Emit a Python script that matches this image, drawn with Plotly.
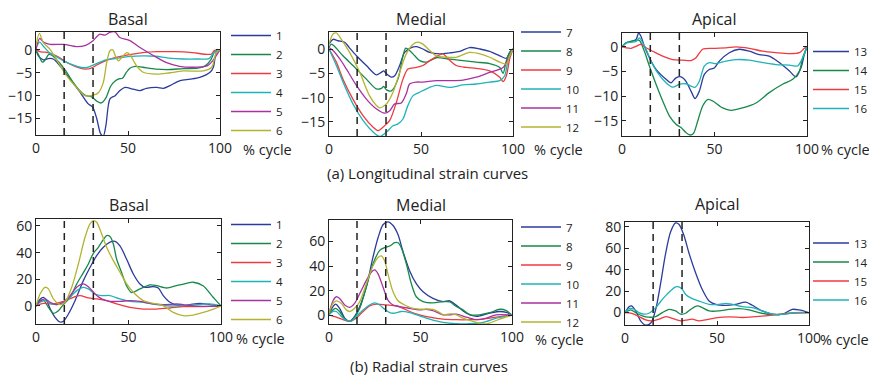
import plotly.graph_objects as go

# ---------------- colours / labels ----------------
COLORS = ["#2b3c9c", "#16894a", "#ef3a40", "#1eb3b6", "#a8329f", "#b3b331"]
X_TICKS = [0, 50, 100]
DASHED_X = [15.3, 31.0]

# ---------------- (a) longitudinal strain, basal (segments 1-6) ----------------
LB1 = [(0,0),(1.3,-1.3),(4,-2.2),(6.7,-1.9),(9.4,-2),(13,-3.5),(18.5,-6.4),(24,-9.3),(28.4,-11.8),(30.8,-12.5),
       (33,-15),(35.1,-18.3),(36.6,-18.8),(38,-16.5),(40.2,-10.7),(43,-10),(45.6,-8.9),(48.4,-8.2),(52.9,-8.6),
       (56.5,-8.9),(60,-8.4),(65.6,-8.2),(69.2,-8.4),(72.8,-7.8),(78.3,-6.7),(83.7,-6.4),(89,-6),(94.6,-4.9),
       (96.4,-3.8),(98,-0.6),(100,0)]
LB2 = [(0,0),(1.5,-1.2),(3.5,-2.7),(5,-2.2),(7,-1),(9,-1.3),(12,-2.5),(16,-4.5),(20,-7),(24,-9),(27,-10),(30,-10.2),
       (33,-11.2),(35.5,-11.6),(38,-10.5),(40.5,-8),(43,-6.8),(45.5,-6.3),(47,-6.2),(49,-5),(51,-4),(54,-3.6),
       (58,-3.8),(65,-4.2),(72,-4.3),(80,-4.1),(88,-4),(92,-3.5),(95,-2.2),(97,-0.5),(100,0)]
LB3 = [(0,0.3),(2,-0.4),(5,-0.5),(8,-0.8),(12,-1.5),(16,-2.6),(20,-3.4),(24,-4),(27,-4.2),(30,-4),(33,-3.3),
       (37,-2.5),(42,-1.8),(50,-1.1),(58,-0.6),(66,-0.4),(75,-0.4),(85,-0.6),(93,-1),(95.5,-0.9),(97,-0.1),(100,0)]
LB4 = [(0,0.5),(2,1.7),(4,0.8),(7,-0.5),(11,-1.5),(15,-2.4),(20,-3.3),(24,-3.8),(27,-3.9),(30,-3.5),(33,-3),
       (38,-2.2),(43,-1.9),(50,-1.5),(58,-1.3),(65,-1.4),(72,-1.8),(80,-2),(88,-2),(94,-1.9),(97,-0.5),(100,0)]
LB5 = [(0,0),(2,2.5),(4,1.7),(7.5,1.2),(15,1.2),(22,0.7),(27,1),(31,2),(34.5,3.4),(37.5,3.2),(40,3.8),(43,3.9),
       (45.5,2.7),(51,2),(56.5,0.5),(64,-1.3),(71,-2.8),(78,-3.6),(85,-3.8),(93,-3.5),(96,-2.4),(100,0)]
LB6 = [(0,0.9),(1.8,3.6),(4,1.6),(7.6,0.1),(11,-2),(16.7,-5.7),(22,-8.2),(26.6,-10),(31,-9.9),(34,-9.3),
       (36.6,-7.1),(38.4,-2.8),(40.2,-0.2),(41.7,0),(43.5,-1.7),(44.8,-2.4),(46.6,-1.7),(49.3,-0.6),(51,-1),
       (54.7,-3.5),(58.3,-4.9),(65.6,-5.3),(72.8,-5),(80,-4.6),(91,-4.6),(95.5,-3.8),(98,-0.6),(100,0)]

# ---------------- (a) longitudinal strain, medial (segments 7-12) ----------------
LM7 = [(0,1),(2.2,2),(4.9,1.7),(8.5,1.4),(11,0.3),(14.9,-1.4),(20.3,-3.4),(25.7,-5.3),(28.4,-4.8),(29.7,-4.5),
       (31.5,-5.2),(33.9,-5.8),(35.7,-5.5),(38.4,-3.4),(41.1,-0.7),(44.7,0.3),(47.5,0.5),(51,0),(54.7,-0.7),
       (60,-1),(65.6,-0.8),(71,-0.5),(76.4,0.3),(82,0),(87.3,-0.5),(92.8,-1.4),(96.4,-1.9),(98.2,-0.7),(100,0)]
LM8 = [(0,0.3),(1.3,1),(3.1,0.5),(7.6,-1.4),(13,-3.4),(20.3,-6.2),(25.7,-8.2),(28.5,-8.1),(29.7,-7.7),
       (31.2,-8.4),(33.9,-8.6),(37.5,-6.2),(40.2,-1.4),(41.7,0.2),(43.8,-0.3),(46.6,-1.4),(49.3,-2.4),
       (52.9,-2.7),(58.3,-1.8),(65.6,-2.1),(72.8,-2.4),(80,-2.7),(87.3,-3),(92.8,-3.8),(94.6,-5),(96.4,-2.4),
       (98.2,-0.7),(100,0)]
LM9 = [(0,0),(4,-2.7),(7.6,-6.2),(13,-10.3),(18.5,-13.7),(24,-16.1),(26.6,-16.8),(29.3,-16.1),(33,-14.7),
       (36.6,-11),(40.2,-6.2),(42.9,-4.1),(47.5,-3.8),(51,-3.4),(54.7,-2.4),(59.2,-1.4),(62,-1),(64.7,-2),
       (69.2,-3.4),(74.6,-3.8),(80,-4),(87.3,-4.5),(92.8,-5.8),(94.6,-6.7),(96.4,-5.5),(98.2,-2),(100,0)]
LM10 = [(0,0),(4,-3.4),(7.6,-6.8),(13,-11.3),(18.5,-14.7),(24,-17.1),(27.5,-18),(31.2,-17.1),(34.8,-15.8),
        (37.5,-15.4),(40.2,-14.4),(42.9,-11.6),(45.7,-9.6),(49.3,-8.9),(52.9,-8.2),(58.3,-7.5),(65.6,-7.9),
        (72.8,-7.4),(80,-7.2),(87.3,-6.8),(92.8,-6.5),(95.5,-5.5),(97.3,-2.4),(100,0)]
LM11 = [(0,0.3),(2.2,-0.3),(5.8,-2),(9.4,-4.1),(14.9,-7.5),(20.3,-10.3),(25.7,-12.3),(30.2,-13.2),(33,-12.7),
        (35.7,-11.3),(39.3,-11.1),(42,-9.2),(43.8,-7.2),(47.5,-6.8),(51,-6.8),(58.3,-6.5),(65.6,-6.5),
        (72.8,-6.4),(80,-5.8),(87.3,-4.8),(94.6,-3.8),(97.3,-2),(100,0)]
LM12 = [(0,1),(2.2,3.1),(4,3.3),(6.7,2),(11.2,-0.7),(16.7,-4.8),(22,-9.6),(25.7,-11.6),(27.5,-12.1),(31.2,-11.3),
        (34.8,-8.9),(38.4,-4.8),(42,-1),(45.7,1),(48.4,1.4),(51,1),(54.7,-0.3),(58.3,-1.4),(63.8,-1.7),
        (69.2,-1.7),(76.4,-0.7),(82,-1),(87.3,-1.7),(92.8,-2.7),(96.4,-3.1),(98.2,-1.4),(100,0)]

# ---------------- (a) longitudinal strain, apical (segments 13-16) ----------------
LA13 = [(0,0),(2.2,0.8),(4.9,1.1),(7.6,1.5),(9,2.8),(10.3,2.1),(12.1,0.1),(14.8,-2.2),(18.4,-4.6),(23.8,-6.6),
        (26.5,-7.3),(29.2,-6.3),(31.9,-6.1),(34.6,-7),(37.3,-9),(39.5,-10.5),(41.8,-9),(44.5,-5.6),(47.2,-4.6),
        (49.9,-4.3),(52.6,-2.9),(58,-1.2),(63.4,-0.5),(68.8,-0.9),(74.2,-1.6),(79.6,-1.9),(85,-3.2),(90.5,-4.9),
        (94.1,-6.1),(96.8,-4.2),(98.6,-1.5),(100,0)]
LA14 = [(0,0),(2.2,0.8),(4.9,1.1),(7.6,1.3),(9.4,1.3),(12.1,-0.9),(14.8,-3.9),(18.4,-7.6),(22,-11),(25.6,-14),
        (29.2,-15.7),(31.9,-16.4),(34.6,-17.4),(36.8,-17.9),(38.6,-17.6),(40.9,-15.1),(43.6,-12),(46.3,-10.7),
        (49,-11),(54.4,-12.4),(58.9,-12.9),(65.2,-12.4),(72.4,-11.4),(79.6,-9.3),(86.8,-7.6),(92.3,-6.6),
        (95.9,-4.9),(97.7,-2.2),(100,0)]
LA15 = [(0,0),(2.2,-0.2),(4.9,-0.3),(7.6,0.1),(10.3,0.5),(13,-0.2),(16.6,-0.9),(22,-1.9),(27.4,-2.6),(32.8,-2.7),
        (37.3,-2.8),(40,-2.2),(43.6,-0.5),(49,-0.3),(56.2,-0.2),(61.6,0),(68.8,-0.3),(76,-0.9),(83.2,-1.2),
        (90.5,-1.4),(95.9,-1.2),(98.6,-0.3),(100,0)]
LA16 = [(0,0),(2.2,0.8),(4.9,0.9),(7.6,1.1),(9.4,1.8),(11.2,0.8),(13,-0.5),(15.7,-2.9),(19.3,-5.3),(23.8,-7.3),
        (27.4,-8.2),(31,-7.6),(34.6,-7.5),(37.3,-8),(39.6,-8.2),(41.8,-7),(44.5,-3.9),(47.2,-3.2),(50.8,-3.4),
        (56.2,-2.9),(61.6,-2.6),(68.8,-2.7),(76,-3.2),(83.2,-3.6),(90.5,-3.7),(94.9,-3.9),(97.7,-2.2),(100,0)]

# ---------------- (b) radial strain, basal (segments 1-6) ----------------
RB1 = [(0,0),(2.2,5),(4,6.5),(5.8,4),(7.6,-2),(10.3,-8.5),(13,-12),(14.8,-11.5),(17.5,-6),(21.1,4),(25.6,19),
       (30.2,31.5),(32.8,37.8),(36.4,44),(40,47.8),(42.7,48.5),(45.4,45),(49,35),(52.6,24),(56.2,16.5),(58.9,14),
       (63.4,14.5),(66.1,13.5),(68.8,7.8),(72.4,2.8),(77.8,0),(83.2,1),(88.6,2),(94.1,1),(100,0)]
RB2 = [(0,0),(2.2,4),(4,4.5),(6.7,-1),(9.4,-5.5),(12.1,-3.5),(14.8,1),(18.4,6.5),(22,16.5),(25.6,25),(28.3,31.5),
       (31,39.5),(33.7,44),(35.5,47.8),(38.2,52.8),(40,52),(41.8,46.5),(43.6,35),(46.3,25),(49,15),(51.7,10),
       (56.2,12.8),(61.6,15.8),(65.2,15.3),(70.6,13.5),(76,15.3),(81.4,17),(85,17.8),(90.5,15),(95,7.8),(100,0)]
RB3 = [(0,0),(4,2),(9.4,1.5),(14.8,3.5),(20.2,6.5),(23.8,7.8),(28.3,6),(32.8,5.3),(38.2,4),(43.6,1.5),(50.8,-1),
       (58,-2.3),(65.2,-2.3),(72.4,-1.5),(79.6,-0.5),(86.8,-0.5),(94,-0.3),(100,0)]
RB4 = [(0,0),(2.2,2.8),(4.9,4),(7.6,2),(11.2,1),(14.8,2.8),(18.4,6.5),(22,11.5),(25.6,14),(28.3,12.8),(31.9,9),
       (35.5,7.8),(40,7.8),(45.4,5.3),(50.8,3.5),(58,2.8),(65.2,1),(72.4,0),(79.6,0.3),(86.8,1),(94,1.5),(100,0)]
RB5 = [(0,0),(2.2,3.5),(4.9,5.3),(7.6,2.8),(11.2,1),(14.8,2.8),(18.4,7.8),(22,14),(25.6,16.5),(28.3,14.5),
       (31.9,9),(35.5,5.3),(40,3.5),(45.4,3.5),(50.8,4),(56.2,3.5),(61.6,2),(68.8,1),(76,1.5),(83.2,0.3),
       (90.5,-0.3),(100,0)]
RB6 = [(0,0),(2.2,9),(4.9,14),(6.7,12.8),(9.4,5.3),(13,1),(15.7,2.8),(19.3,14),(22.9,31.5),(26.5,51.5),
       (29.2,61.5),(31,64),(32.8,62.8),(35.5,54),(38.2,44),(41.8,34),(45.4,25.3),(49,16.5),(52.6,10.3),(58,4),
       (63.4,2),(68.8,0.3),(74.2,-4.8),(79.6,-7.3),(85,-6.8),(90.5,-4.8),(95.9,-2.3),(100,0)]

# ---------------- (b) radial strain, medial (segments 7-12) ----------------
RM7 = [(0,1.6),(2.2,7),(3.6,9),(5.8,5.6),(8.6,-2.4),(11.3,-5),(14,-1),(16.8,7),(20.4,23),(24,47),(26.8,63),
       (29.5,73.6),(32.2,76),(35,73),(37.7,65.6),(40.4,52),(44.1,36),(47.7,25.6),(51.4,19),(56.8,13.6),(62.3,11),
       (66,11.7),(69.6,8),(75.1,1.6),(80.5,-1),(87.8,1.6),(93.3,3),(96.9,2.2),(100,0)]
RM8 = [(0,1),(2.2,4.3),(3.6,5.6),(5.8,3),(8.6,-3.2),(11.3,-5),(14,-1.6),(16.8,5.6),(20.4,23),(24,41.6),(27.7,52.8),
       (30.4,55),(33.2,56.3),(35.9,59),(37.7,59),(39.5,55),(42.3,41.6),(45,25.6),(47.7,15),(51.4,11),(56.8,10),
       (62.3,11),(66,10.8),(69.6,7),(73.2,4.3),(76.9,0.3),(82.3,0.3),(87.8,2),(93.3,4.8),(96.9,3.7),(100,0)]
RM9 = [(0,0),(4,-1.6),(7.7,-3.7),(11.3,-5),(14.9,-2.4),(18.6,3),(22.2,7.5),(25.9,9),(31.3,8.3),(36.8,7.5),
       (40.4,5.6),(44.1,3),(49.5,0.3),(55,-1.6),(62.3,-3.2),(69.6,-3.7),(76.9,-3.7),(84.2,-3.2),(91.4,-1.6),(100,0)]
RM10 = [(0,0.3),(2.2,3),(4,3),(6.7,-1),(9.5,-4.3),(12.2,-5),(14.9,-1),(18.6,4.3),(22.2,8.3),(24.9,10),(27.7,8.3),
        (30.4,4.8),(33.2,2),(35.9,1.6),(39.5,3),(44.1,2.1),(49.5,-0.5),(55,-3.2),(62.3,-5.9),(69.6,-7),(76.9,-7),
        (84.2,-5.9),(91.4,-2.4),(96.9,-1),(100,0)]
RM11 = [(0,1.6),(2.2,11.7),(4,15),(5.8,13.6),(8.6,8.3),(11.3,6.4),(14,9.6),(16.8,17.6),(20.4,28.3),(23.1,35),
        (25,36.8),(26.8,33.6),(29.5,23),(32.2,12.3),(35,8.3),(38.6,7),(44.1,5.6),(49.5,4.3),(53.2,4.8),(56.8,3.7),
        (62.3,0.3),(65.9,0.3),(69.6,0.8),(75.1,-1.6),(80.5,-3.7),(86,-2.4),(91.4,0.3),(100,0)]
RM12 = [(0,1.6),(2.2,9.6),(4,11.7),(6.7,9.6),(9.5,4.3),(11.3,3),(14,5.6),(16.8,11),(20.4,25.6),(24,40),(26.8,47),
        (28.6,48.3),(30.4,44.3),(32.2,33.6),(35,19),(37.7,11.7),(41.3,8.3),(45.9,5.6),(51.4,4.8),(56.8,4.8),
        (59.6,3),(62.3,0.3),(65.9,1),(69.6,0.3),(73.2,-2.4),(78.7,-5),(84.2,-7.2),(87.8,-6.4),(93.3,-3.2),(100,0)]

# ---------------- (b) radial strain, apical (segments 13-16) ----------------
RA13 = [(0,0),(2.2,5.5),(3.6,6.2),(5.8,1.5),(8.5,-7.7),(11.2,-11.7),(14,-9.8),(16.7,3),(19.4,27.7),(22.1,55.4),
        (24.8,75.4),(27.5,83.7),(29.3,82.5),(32,72.3),(34.8,55.4),(38.4,37),(42,21.5),(45.7,10.8),(49.3,7.7),
        (54.7,6.8),(60.1,7.7),(65.6,9.8),(69.2,6.8),(74.6,1.5),(80.1,-1.5),(85.5,-1.5),(90.9,3),(94.6,2.5),(100,0)]
RA14 = [(0,0),(3.1,2.5),(5.8,0),(9.4,-3),(13,-4.3),(16.7,-3.7),(20.3,0),(23.9,3),(27.5,1.5),(30.3,-1.5),(33,-0.6),
        (35.7,3),(39.3,6.2),(42,4.6),(45.7,1.5),(51.1,1.5),(56.5,3),(61.9,3.7),(67.4,2.5),(72.8,0),(78.3,-1.8),
        (83.7,-1.8),(89.1,-0.6),(94.6,0),(100,0)]
RA15 = [(0,0),(3.1,-0.6),(6.7,-3),(11.2,-6.8),(14.9,-7.7),(18.5,-6.2),(22.1,-3.7),(25.7,-5.5),(30.3,-7.7),(33,-7.1),
        (36.6,-6.2),(40.2,-7.7),(43.8,-6.8),(49.3,-4.9),(56.5,-4),(63.8,-4.6),(69.2,-4),(76.4,-3),(83.7,-1.8),
        (90.9,-0.6),(100,0)]
RA16 = [(0,0),(2.2,3.7),(4.9,3.1),(7.6,0),(10.3,-1.5),(13,-0.6),(16.7,4.6),(20.3,12.3),(23.9,19),(27.5,24),
        (29.3,24),(31.2,21.5),(33,16.9),(35.7,13.8),(40.2,10.8),(45.7,7.7),(51.1,7.7),(54.7,8.6),(58.3,7.7),
        (63.8,5.5),(69.2,4.6),(74.6,1.5),(80.1,-1.5),(87.3,-1.5),(92.8,0),(100,0)]

# ---------------- panel definitions ----------------
TITLES = ["Basal", "Medial", "Apical", "Basal", "Medial", "Apical"]
SERIES = [[LB1, LB2, LB3, LB4, LB5, LB6], [LM7, LM8, LM9, LM10, LM11, LM12], [LA13, LA14, LA15, LA16],
          [RB1, RB2, RB3, RB4, RB5, RB6], [RM7, RM8, RM9, RM10, RM11, RM12], [RA13, RA14, RA15, RA16]]
LABELS = [["1", "2", "3", "4", "5", "6"], ["7", "8", "9", "10", "11", "12"], ["13", "14", "15", "16"],
          ["1", "2", "3", "4", "5", "6"], ["7", "8", "9", "10", "11", "12"], ["13", "14", "15", "16"]]
Y_RANGES = [(-18.6, 3.9), (-17.9, 3.5), (-18.1, 2.8), (-13.5, 65.2), (-7.2, 77.5), (-11.6, 84.6)]
Y_TICKS = [[-15, -10, -5, 0], [-15, -10, -5, 0], [-15, -10, -5, 0],
           [0, 20, 40, 60], [0, 20, 40, 60], [0, 20, 40, 60, 80]]
CAPTIONS = ["(a) Longitudinal strain curves", "(b) Radial strain curves"]

# layout geometry in target-image pixels (left, right, top, bottom) of each plot box
PAGE_W, PAGE_H = 877, 375
OFF = 8                      # the page body adds an 8px margin around the figure
W, H = PAGE_W - OFF, PAGE_H - OFF
BOXES = [(36, 220, 32, 135), (329, 513, 32, 136), (622, 807, 33, 136),
         (36, 221, 219, 324), (329, 512, 220, 324), (625, 809, 222, 325)]
LEGEND_POS = [(226, 21), (516, 17.5), (808, 37), (226, 210), (516, 212.5), (808, 228.5)]
LEGEND_ITEMW = [40, 40, 36, 40, 40, 36]
CYCLE_POS = [(267, 149), (558, 149), (845, 149), (260, 338), (559, 339), (844, 339)]
TITLE_Y = [19, 19, 19, 205, 205, 204]
CAPTION_POS = [(427, 173), (429, 366)]

FONT = "Open Sans, Noto Sans, sans-serif"
INK = "#222222"

def fx(p):
    return (p - OFF) / W

def fy(p):
    return 1 - (p - OFF) / H

fig = go.Figure()
annotations = []
shapes = []
layout = {}

for i in range(6):
    n = i + 1
    sfx = "" if n == 1 else str(n)
    xa, ya = "x" + sfx, "y" + sfx
    leg = "legend" + sfx
    for k, (pts, lab) in enumerate(zip(SERIES[i], LABELS[i])):
        fig.add_trace(go.Scatter(
            x=[p[0] for p in pts], y=[p[1] for p in pts], name=lab, mode="lines",
            line=dict(color=COLORS[k], width=1.3, shape="spline", smoothing=0.8),
            xaxis=xa, yaxis=ya, legend=leg, showlegend=True, hoverinfo="skip"))
    l, r, t, b = BOXES[i]
    layout["xaxis" + sfx] = dict(
        domain=[fx(l), fx(r)], anchor=ya, range=[0, 100], tickvals=X_TICKS,
        showline=True, linecolor=INK, linewidth=1, mirror="ticks", ticks="inside", ticklen=4,
        tickcolor=INK, showgrid=False, zeroline=False, tickfont=dict(size=14, color=INK, family=FONT))
    layout["yaxis" + sfx] = dict(
        domain=[fy(b), fy(t)], anchor=xa, range=list(Y_RANGES[i]), tickvals=Y_TICKS[i],
        showline=True, linecolor=INK, linewidth=1, mirror="ticks", ticks="inside", ticklen=4,
        tickcolor=INK, showgrid=False, zeroline=False, tickfont=dict(size=14, color=INK, family=FONT))
    lx, ly = LEGEND_POS[i]
    layout[leg] = dict(x=fx(lx), y=fy(ly), xanchor="left", yanchor="top", bgcolor="rgba(0,0,0,0)",
                       font=dict(size=11.5, color=INK, family=FONT), itemwidth=LEGEND_ITEMW[i],
                       tracegroupgap=0)
    # title
    annotations.append(dict(text=TITLES[i], x=fx((l + r) / 2), y=fy(TITLE_Y[i]), xref="paper", yref="paper",
                            showarrow=False, xanchor="center", yanchor="middle",
                            font=dict(size=16, color=INK, family=FONT)))
    cx, cy = CYCLE_POS[i]
    annotations.append(dict(text="% cycle", x=fx(cx), y=fy(cy), xref="paper", yref="paper",
                            showarrow=False, xanchor="center", yanchor="middle",
                            font=dict(size=14.5, color=INK, family=FONT)))
    for dx in DASHED_X:
        shapes.append(dict(type="line", xref=xa, yref=ya + " domain", x0=dx, x1=dx, y0=0, y1=1,
                           line=dict(color=INK, width=1.5, dash="7px,5px")))

for cap, (cx, cy) in zip(CAPTIONS, CAPTION_POS):
    annotations.append(dict(text=cap, x=fx(cx), y=fy(cy), xref="paper", yref="paper", showarrow=False,
                            xanchor="center", yanchor="middle", font=dict(size=15, color=INK, family=FONT)))

fig.update_layout(width=W, height=H, margin=dict(l=0, r=0, t=0, b=0, autoexpand=False),
                  paper_bgcolor="white", plot_bgcolor="white", font=dict(family=FONT, color=INK),
                  annotations=annotations, shapes=shapes, **layout)

fig.write_html("out.html")
